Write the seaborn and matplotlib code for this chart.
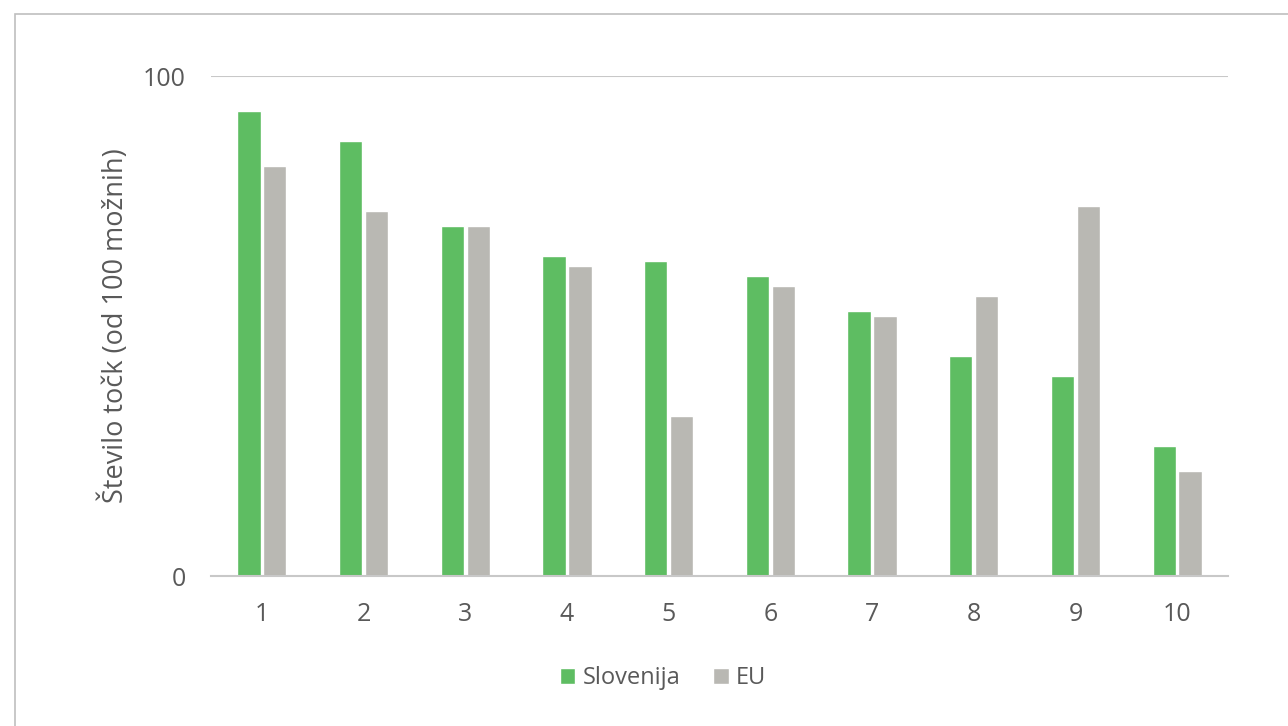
import seaborn as sns
import pandas as pd
import matplotlib.pyplot as plt
from matplotlib.patches import Rectangle

categories = ["1", "2", "3", "4", "5", "6", "7", "8", "9", "10"]
slovenija = [93, 87, 70, 64, 63, 60, 53, 44, 40, 26]
eu = [82, 73, 70, 62, 32, 58, 52, 56, 74, 21]

df = pd.DataFrame({
    "cat": categories * 2,
    "val": slovenija + eu,
    "serija": ["Slovenija"] * len(categories) + ["EU"] * len(categories),
})

sns.set_style("white")
plt.rcParams["font.family"] = ["Open Sans", "DejaVu Sans"]
txt = "#595959"

fig = plt.figure(figsize=(12.88, 7.26), dpi=100)
ax = fig.add_axes([211 / 1288, 1 - 576 / 726, (1228 - 211) / 1288, 500 / 726])

sns.barplot(data=df, x="cat", y="val", hue="serija", order=categories,
            palette={"Slovenija": "#5EBD62", "EU": "#B9B8B3"}, saturation=1,
            width=0.51, gap=0.1, ax=ax, legend=True)

ax.set_ylim(0, 100)
ax.set_yticks([0, 100])
ax.axhline(100, color="#C8C8C8", lw=1.5, zorder=0)
for s in ["top", "right", "left"]:
    ax.spines[s].set_visible(False)
ax.spines["bottom"].set_color("#C8C8C8")
ax.spines["bottom"].set_linewidth(1.5)
ax.tick_params(axis="both", length=0, labelsize=18, colors=txt)
ax.tick_params(axis="x", pad=19)
ax.tick_params(axis="y", pad=18)
ax.set_xlabel("")
ax.set_ylabel("Število točk (od 100 možnih)", fontsize=19.5, color=txt)
ax.yaxis.set_label_coords(-0.08, 0.5)

h, l = ax.get_legend_handles_labels()
ax.legend(h, l, loc="center", bbox_to_anchor=(663 / 1288, 1 - 678 / 726),
          bbox_transform=fig.transFigure, ncol=2, frameon=False,
          fontsize=17, labelcolor=txt, handlelength=0.65, handleheight=0.65,
          handletextpad=0.3, columnspacing=1.4)

fig.add_artist(Rectangle((15 / 1288, -0.1), 1.2, 1.1 - 14 / 726, transform=fig.transFigure,
                         fill=False, edgecolor="#BFBFBF", lw=1.2))

fig.savefig("out.png", dpi=100)
